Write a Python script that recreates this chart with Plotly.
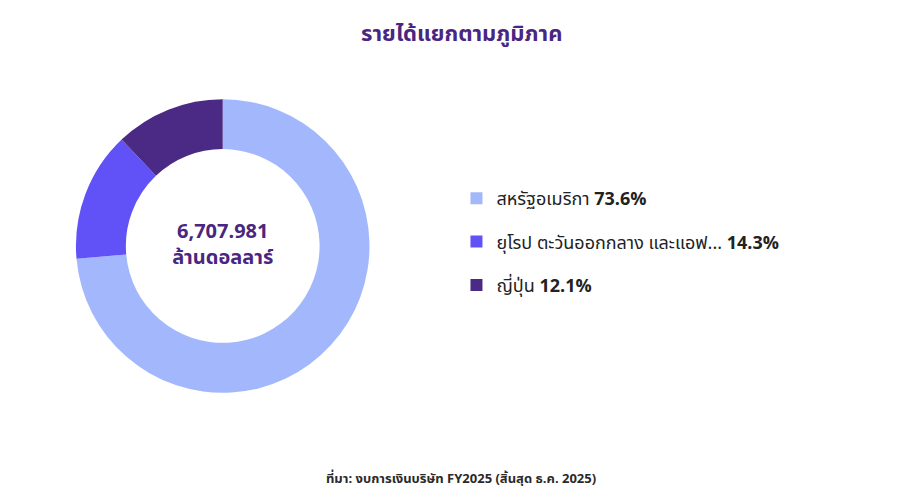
import plotly.graph_objects as go

regions = ["สหรัฐอเมริกา", "ยุโรป ตะวันออกกลาง และแอฟ...", "ญี่ปุ่น"]
shares = [73.6, 14.3, 12.1]
colors = ["#a3b8fc", "#6152f7", "#4b2a85"]
total_text = "6,707.981<br>ล้านดอลลาร์"

font = "Noto Sans Thai, Noto Sans, DejaVu Sans, sans-serif"

fig = go.Figure(go.Pie(
    labels=regions,
    values=shares,
    hole=0.66,
    sort=False,
    direction="clockwise",
    rotation=0,
    marker=dict(colors=colors),
    textinfo="none",
    showlegend=False,
    title=dict(text=f"<b>{total_text}</b>", position="middle center",
               font=dict(size=20, color="#4a2680", family=font)),
    domain=dict(x=[0.075, 0.399], y=[0.232, 0.818]),
))

# legend entries as marker-only traces so the rows can be spaced out
for r, s, c in zip(regions, shares, colors):
    fig.add_trace(go.Scatter(
        x=[None], y=[None], mode="markers", name=f"{r} <b>{s}%</b>",
        legendgroup=r,
        marker=dict(symbol="square", size=24, color=c),
    ))

fig.add_annotation(
    x=0.5, y=0.984, xref="paper", yref="paper",
    text="<b>รายได้แยกตามภูมิภาค</b>", showarrow=False,
    font=dict(size=22, color="#4a2680", family=font),
)
fig.add_annotation(
    x=0.5, y=0.035, xref="paper", yref="paper",
    text="<b>ที่มา: งบการเงินบริษัท FY2025 (สิ้นสุด ธ.ค. 2025)</b>",
    showarrow=False, font=dict(size=13, color="#2a2a2a", family=font),
)

fig.update_layout(
    width=906, height=501,
    paper_bgcolor="white", plot_bgcolor="white",
    margin=dict(l=0, r=0, t=0, b=0),
    xaxis=dict(visible=False), yaxis=dict(visible=False),
    font=dict(family=font, color="#222"),
    legend=dict(x=0.495, y=0.533, xanchor="left", yanchor="middle",
                font=dict(size=18, color="#222", family=font),
                itemsizing="constant", tracegroupgap=17),
)

fig.write_html("out.html")
